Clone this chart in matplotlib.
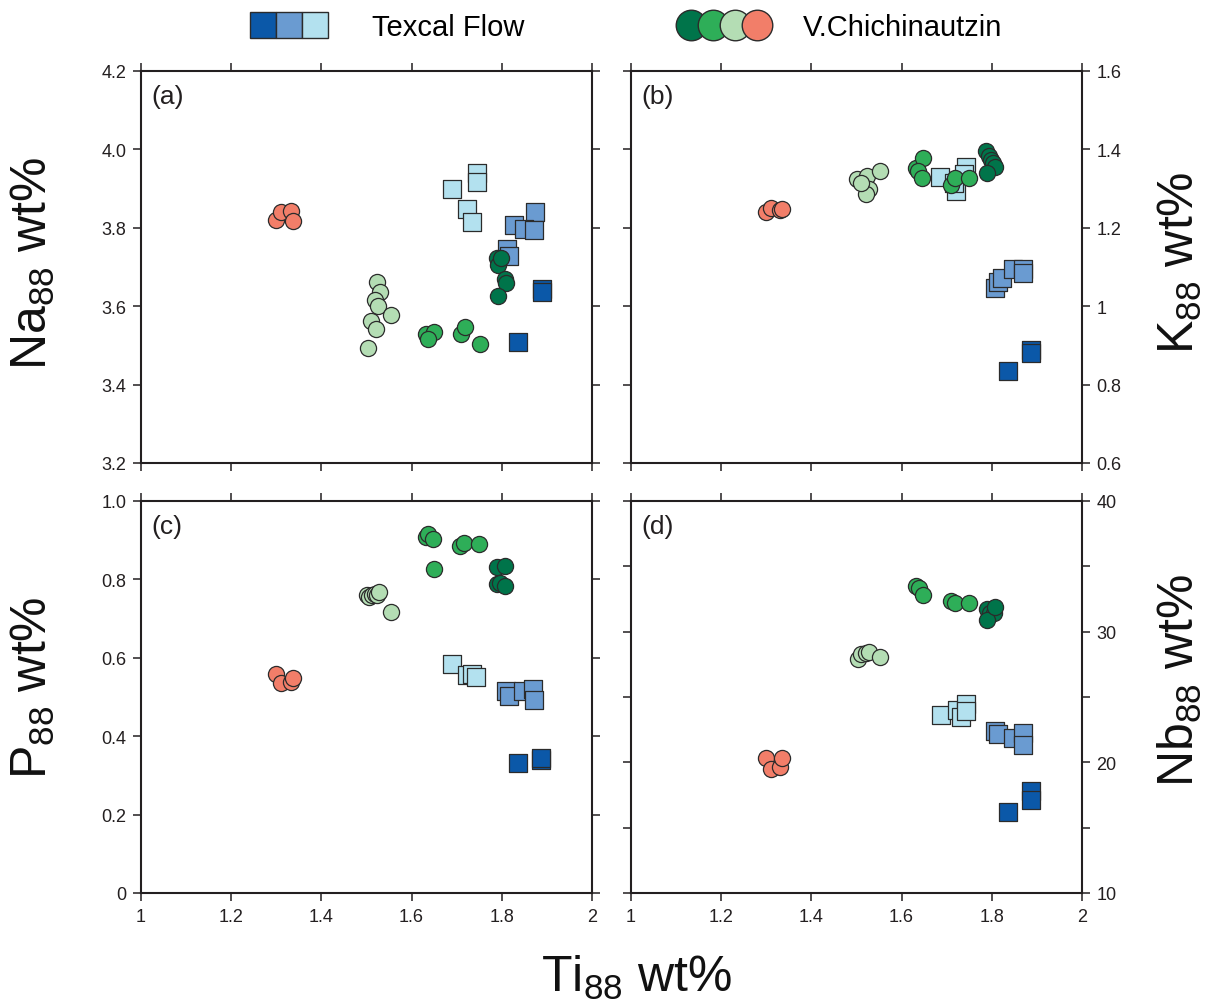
import matplotlib
matplotlib.use("Agg")
import matplotlib.pyplot as plt
from matplotlib.lines import Line2D
from matplotlib.legend_handler import HandlerTuple

plt.rcParams['font.family'] = ['Liberation Sans', 'DejaVu Sans']
plt.rcParams['mathtext.default'] = 'regular'

# ---------------- data ----------------
groups = ['TF1', 'TF2', 'TF3', 'VC3', 'VC2', 'VC1', 'VC4']
group_colors = {'TF1': '#0B58A8', 'TF2': '#6A9BD1', 'TF3': '#B3E1EF',
                'VC1': '#00744A', 'VC2': '#2EAE58', 'VC3': '#B4DDB4', 'VC4': '#F27E69'}
group_markers = {'TF1': 's', 'TF2': 's', 'TF3': 's',
                 'VC1': 'o', 'VC2': 'o', 'VC3': 'o', 'VC4': 'o'}

# Panel (a): Ti vs Na
ti_a = [1.890, 1.890, 1.837,
        1.873, 1.826, 1.850, 1.872, 1.811, 1.816,
        1.690, 1.744, 1.744, 1.722, 1.733,
        1.789, 1.791, 1.798, 1.807, 1.810, 1.791,
        1.633, 1.650, 1.637, 1.710, 1.719, 1.752,
        1.524, 1.530, 1.519, 1.526, 1.511, 1.522, 1.554, 1.504,
        1.300, 1.311, 1.332, 1.336]
na_a = [3.643, 3.636, 3.509,
        3.841, 3.807, 3.796, 3.794, 3.746, 3.728,
        3.898, 3.940, 3.917, 3.849, 3.814,
        3.723, 3.704, 3.723, 3.670, 3.660, 3.626,
        3.530, 3.534, 3.517, 3.530, 3.546, 3.504,
        3.661, 3.636, 3.615, 3.600, 3.562, 3.542, 3.577, 3.493,
        3.821, 3.840, 3.842, 3.817]
grp_a = ['TF1'] * 3 + ['TF2'] * 6 + ['TF3'] * 5 + ['VC1'] * 6 + ['VC2'] * 6 + ['VC3'] * 8 + ['VC4'] * 4

# Panel (b): Ti vs K
ti_b = [1.888, 1.888, 1.836,
        1.808, 1.814, 1.823, 1.848, 1.870, 1.870,
        1.686, 1.742, 1.738, 1.720, 1.716,
        1.788, 1.794, 1.798, 1.803, 1.808, 1.790,
        1.633, 1.648, 1.637, 1.646, 1.709, 1.718, 1.750,
        1.501, 1.524, 1.552, 1.527, 1.521, 1.509,
        1.300, 1.311, 1.330, 1.335]
k_b = [0.889, 0.881, 0.834,
       1.047, 1.061, 1.072, 1.096, 1.095, 1.085,
       1.329, 1.356, 1.336, 1.295, 1.315,
       1.396, 1.383, 1.374, 1.366, 1.356, 1.340,
       1.353, 1.377, 1.345, 1.328, 1.308, 1.328, 1.326,
       1.325, 1.332, 1.346, 1.300, 1.287, 1.315,
       1.241, 1.251, 1.245, 1.247]
grp_b = ['TF1'] * 3 + ['TF2'] * 6 + ['TF3'] * 5 + ['VC1'] * 6 + ['VC2'] * 7 + ['VC3'] * 6 + ['VC4'] * 4

# Panel (c): Ti vs P
ti_c = [1.887, 1.887, 1.837,
        1.810, 1.815, 1.848, 1.870, 1.872,
        1.689, 1.722, 1.733, 1.743,
        1.789, 1.807, 1.789, 1.796, 1.807,
        1.632, 1.636, 1.647, 1.707, 1.717, 1.750, 1.650,
        1.500, 1.506, 1.513, 1.519, 1.524, 1.528, 1.554,
        1.300, 1.311, 1.332, 1.336]
p_c = [0.340, 0.345, 0.332,
       0.515, 0.502, 0.515, 0.521, 0.492,
       0.583, 0.557, 0.559, 0.551,
       0.832, 0.834, 0.787, 0.791, 0.783,
       0.909, 0.915, 0.904, 0.885, 0.892, 0.891, 0.827,
       0.759, 0.756, 0.759, 0.764, 0.759, 0.769, 0.717,
       0.559, 0.536, 0.538, 0.549]
grp_c = ['TF1'] * 3 + ['TF2'] * 5 + ['TF3'] * 4 + ['VC1'] * 5 + ['VC2'] * 7 + ['VC3'] * 7 + ['VC4'] * 4

# Panel (d): Ti vs Nb
ti_d = [1.888, 1.888, 1.836,
        1.808, 1.814, 1.848, 1.870, 1.870,
        1.688, 1.722, 1.742, 1.732, 1.742,
        1.790, 1.797, 1.804, 1.790, 1.808,
        1.633, 1.638, 1.648, 1.709, 1.718, 1.750,
        1.503, 1.509, 1.522, 1.527, 1.553,
        1.300, 1.311, 1.330, 1.335]
nb_d = [17.79, 17.15, 16.18,
        22.38, 22.18, 21.87, 22.21, 21.36,
        23.61, 24.04, 24.43, 23.46, 23.92,
        31.70, 31.45, 31.40, 30.86, 31.91,
        33.49, 33.36, 32.78, 32.34, 32.21, 32.21,
        27.87, 28.26, 28.38, 28.46, 28.05,
        20.34, 19.50, 19.65, 20.34]
grp_d = ['TF1'] * 3 + ['TF2'] * 5 + ['TF3'] * 5 + ['VC1'] * 5 + ['VC2'] * 6 + ['VC3'] * 5 + ['VC4'] * 4

x_ticks = [1, 1.2, 1.4, 1.6, 1.8, 2]
x_ticklabels = ['1', '1.2', '1.4', '1.6', '1.8', '2']
na_ticks = [3.2, 3.4, 3.6, 3.8, 4.0, 4.2]
na_ticklabels = ['3.2', '3.4', '3.6', '3.8', '4.0', '4.2']
k_ticks = [0.6, 0.8, 1.0, 1.2, 1.4, 1.6]
k_ticklabels = ['0.6', '0.8', '1', '1.2', '1.4', '1.6']
p_ticks = [0, 0.2, 0.4, 0.6, 0.8, 1.0]
p_ticklabels = ['0', '0.2', '0.4', '0.6', '0.8', '1.0']
nb_ticks = [10, 15, 20, 25, 30, 35, 40]
nb_ticklabels = ['10', '', '20', '', '30', '', '40']

legend_labels = ['Texcal Flow', 'V.Chichinautzin']
panel_letters = ['(a)', '(b)', '(c)', '(d)']

# ---------------- figure ----------------
W, H = 1210, 1004
fig = plt.figure(figsize=(W / 100, H / 100), dpi=100)
axw, axh = 451 / W, 392 / H
ax_a = fig.add_axes([141 / W, 1 - 464 / H, axw, axh])
ax_b = fig.add_axes([631 / W, 1 - 464 / H, axw, axh])
ax_c = fig.add_axes([141 / W, 1 - 894 / H, axw, axh])
ax_d = fig.add_axes([631 / W, 1 - 894 / H, axw, axh])

spine_col = '#231F20'
edge_col = '#2b2b2b'

panels = [
    (ax_a, ti_a, na_a, grp_a, na_ticks, na_ticklabels, (3.2, 4.2), 'left', False),
    (ax_b, ti_b, k_b, grp_b, k_ticks, k_ticklabels, (0.6, 1.6), 'right', False),
    (ax_c, ti_c, p_c, grp_c, p_ticks, p_ticklabels, (0, 1.0), 'left', True),
    (ax_d, ti_d, nb_d, grp_d, nb_ticks, nb_ticklabels, (10, 40), 'right', True),
]

for (ax, xs, ys, gs, yt, ytl, ylim, side, bottom), letter in zip(panels, panel_letters):
    for g in groups:
        px = [x for x, gg in zip(xs, gs) if gg == g]
        py = [y for y, gg in zip(ys, gs) if gg == g]
        m = group_markers[g]
        ax.scatter(px, py, s=150 if m == 's' else 135, marker=m,
                   facecolor=group_colors[g], edgecolor=edge_col,
                   linewidth=0.9, zorder=3 if m == 's' else 4)
    ax.set_xlim(1, 2)
    ax.set_ylim(*ylim)
    ax.set_xticks(x_ticks)
    ax.set_xticklabels(x_ticklabels)
    ax.set_yticks(yt)
    ax.set_yticklabels(ytl)
    ax.tick_params(direction='out', length=6, width=1.1, colors=spine_col,
                   labelsize=13, pad=4.5, top=True, right=True, bottom=True, left=True,
                   labeltop=False, labelbottom=bottom,
                   labelleft=(side == 'left'), labelright=(side == 'right'))
    for sp in ax.spines.values():
        sp.set_linewidth(1.5)
        sp.set_color(spine_col)
    ax.text(0.024, 0.967, letter, transform=ax.transAxes, ha='left', va='top',
            fontsize=19, color='#231F20')

# axis labels
lab_kw = dict(fontsize=36, color='#111111', rotation=90, ha='center', va='center')
fig.text(33 / W, 1 - 263 / H, 'Na$_{88}$ wt%', **lab_kw)
fig.text(1180 / W, 1 - 263 / H, 'K$_{88}$ wt%', **lab_kw)
fig.text(33 / W, 1 - 688 / H, 'P$_{88}$ wt%', **lab_kw)
fig.text(1180 / W, 1 - 680 / H, 'Nb$_{88}$ wt%', **lab_kw)
fig.text(636 / W, 1 - 978 / H, 'Ti$_{88}$ wt%', fontsize=36, color='#111111',
         ha='center', va='center')

# legend
tf_handles = tuple(Line2D([], [], ls='none', marker='s', ms=19, mfc=group_colors[g],
                          mec=edge_col, mew=1.0) for g in ['TF1', 'TF2', 'TF3'])
vc_handles = tuple(Line2D([], [], ls='none', marker='o', ms=22, mfc=group_colors[g],
                          mec=edge_col, mew=1.0) for g in ['VC1', 'VC2', 'VC3', 'VC4'])
fs_leg = 21
px_per_em = fs_leg * 100 / 72
fig.legend([tf_handles], [legend_labels[0]],
           handler_map={tuple: HandlerTuple(ndivide=None, pad=0)},
           loc='center left', bbox_to_anchor=(250 / W, 1 - 28 / H),
           frameon=False, fontsize=fs_leg, handlelength=78 / px_per_em,
           handletextpad=44 / px_per_em, borderpad=0, borderaxespad=0)
fig.legend([vc_handles], [legend_labels[1]],
           handler_map={tuple: HandlerTuple(ndivide=None, pad=0)},
           loc='center left', bbox_to_anchor=(680 / W, 1 - 28 / H),
           frameon=False, fontsize=fs_leg, handlelength=88 / px_per_em,
           handletextpad=35 / px_per_em, borderpad=0, borderaxespad=0)

fig.savefig('out.png', dpi=100)
